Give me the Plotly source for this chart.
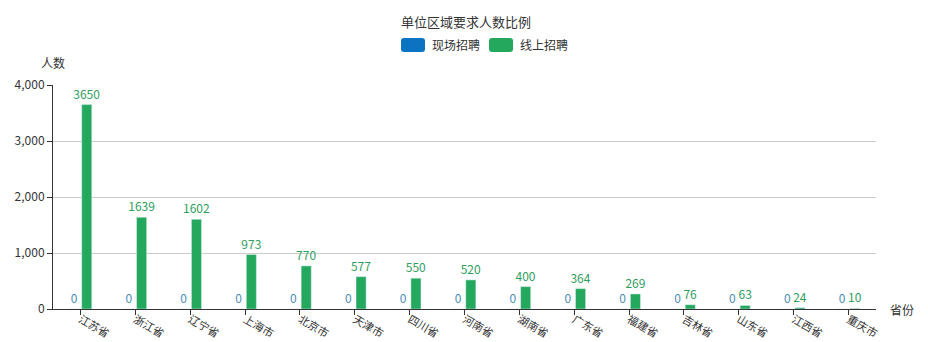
import plotly.graph_objects as go

categories = ["江苏省", "浙江省", "辽宁省", "上海市", "北京市", "天津市", "四川省", "河南省",
              "湖南省", "广东省", "福建省", "吉林省", "山东省", "江西省", "重庆市"]
onsite = [0, 0, 0, 0, 0, 0, 0, 0, 0, 0, 0, 0, 0, 0, 0]
online = [3650, 1639, 1602, 973, 770, 577, 550, 520, 400, 364, 269, 76, 63, 24, 10]
series_names = ["现场招聘", "线上招聘"]
y_ticks = [0, 1000, 2000, 3000, 4000]

FONT = "Microsoft YaHei, Noto Sans CJK SC, sans-serif"
BLUE = "#0a73c2"
GREEN = "#23a85e"

# plot area in pixels
L, R, T, B = 53, 876, 85, 309
W, H = 928, 342
def px(x):
    return (x - L) / (R - L)
def py(y):
    return (B - y) / (B - T)

fig = go.Figure()
fig.add_trace(go.Bar(x=categories, y=onsite, name=series_names[0], marker_color=BLUE,
                     text=onsite, textposition="outside", cliponaxis=False, constraintext="none",
                     textfont=dict(color="#4a8db5", size=12, family=FONT), showlegend=False))
fig.add_trace(go.Bar(x=categories, y=online, name=series_names[1], marker_color=GREEN,
                     text=online, textposition="outside", cliponaxis=False, constraintext="none",
                     textfont=dict(color="#2e9e5e", size=12, family=FONT), showlegend=False))

def rrect(x0, x1, y0, y1, r=3):
    return (f"M {px(x0+r)},{py(y0)} L {px(x1-r)},{py(y0)} Q {px(x1)},{py(y0)} {px(x1)},{py(y0+r)} "
            f"L {px(x1)},{py(y1-r)} Q {px(x1)},{py(y1)} {px(x1-r)},{py(y1)} "
            f"L {px(x0+r)},{py(y1)} Q {px(x0)},{py(y1)} {px(x0)},{py(y1-r)} "
            f"L {px(x0)},{py(y0+r)} Q {px(x0)},{py(y0)} {px(x0+r)},{py(y0)} Z")

shapes = [
    dict(type="path", xref="paper", yref="paper", path=rrect(401, 425, 38, 52),
         fillcolor=BLUE, line=dict(width=0)),
    dict(type="path", xref="paper", yref="paper", path=rrect(489, 513, 38, 52),
         fillcolor=GREEN, line=dict(width=0)),
]

annotations = [
    dict(text=series_names[0], x=px(430), y=py(45), xref="paper", yref="paper",
         xanchor="left", yanchor="middle", showarrow=False, font=dict(size=12, color="#333", family=FONT)),
    dict(text=series_names[1], x=px(518), y=py(45), xref="paper", yref="paper",
         xanchor="left", yanchor="middle", showarrow=False, font=dict(size=12, color="#333", family=FONT)),
    dict(text="人数", x=px(53), y=py(62), xref="paper", yref="paper",
         xanchor="center", yanchor="middle", showarrow=False, font=dict(size=12, color="#333", family=FONT)),
    dict(text="省份", x=px(902), y=py(309), xref="paper", yref="paper",
         xanchor="center", yanchor="middle", showarrow=False, font=dict(size=12, color="#333", family=FONT)),
]

fig.update_layout(
    width=W, height=H,
    margin=dict(l=L, r=W - R, t=T, b=H - B, autoexpand=False),
    paper_bgcolor="white", plot_bgcolor="white",
    barmode="group", bargap=0.54, bargroupgap=0.2,
    title=dict(text="单位区域要求人数比例", x=466 / W, xanchor="center", xref="container",
               y=1 - 22 / H, yanchor="middle", yref="container",
               font=dict(size=13, color="#333", family=FONT)),
    font=dict(family=FONT, size=12, color="#333"),
    shapes=shapes, annotations=annotations,
    xaxis=dict(type="category", range=[-0.5, len(categories) - 0.5], showline=True,
               linecolor="#333", linewidth=1, ticks="outside", ticklen=5, tickcolor="#333",
               tickangle=30, showgrid=False, automargin=False, ticklabelstandoff=-6,
               tickfont=dict(size=11, color="#333", family=FONT)),
    yaxis=dict(range=[0, 4000], tickvals=y_ticks, tickformat=",", showline=True,
               linecolor="#333", linewidth=1, ticks="outside", ticklen=5, tickcolor="#333",
               showgrid=True, gridcolor="#ccc", gridwidth=1, zeroline=False, automargin=False,
               tickfont=dict(size=12, color="#333", family=FONT)),
)

fig.write_html("out.html")
